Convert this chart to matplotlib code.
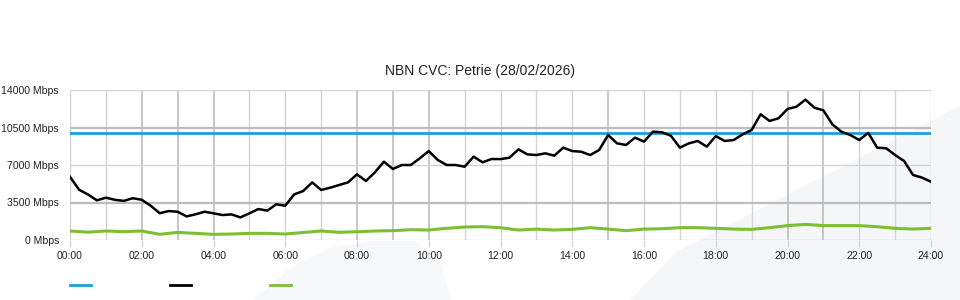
import numpy as np
import matplotlib
matplotlib.use("Agg")
import matplotlib.pyplot as plt
from matplotlib.lines import Line2D
from matplotlib.patches import Polygon

plt.rcParams["font.family"] = ["Liberation Sans", "DejaVu Sans"]

TITLE = "NBN CVC: Petrie (28/02/2026)"

# CVC capacity (blue)
capacity_mbps = 10000

# Peak traffic (black), 15 minute samples from 00:00 to 24:00
traffic_hours = np.arange(0, 24.01, 0.25)
traffic_mbps = [
    5900, 4700, 4250, 3700, 3950, 3750, 3650, 3900, 3750, 3200, 2500, 2700,
    2640, 2200, 2400, 2640, 2490, 2330, 2390, 2110, 2490, 2890, 2740, 3330,
    3200, 4260, 4570, 5380, 4670, 4880, 5130, 5380, 6130, 5510, 6320, 7310,
    6630, 7000, 7000, 7620, 8300, 7470, 7000, 7000, 6840, 7780, 7250, 7560,
    7550, 7680, 8460, 7990, 7930, 8090, 7870, 8620, 8300, 8240, 7930, 8400,
    9800, 9020, 8870, 9550, 9180, 10110, 10060, 9730, 8620, 9020, 9240, 8710,
    9700, 9240, 9330, 9860, 10270, 11730, 11110, 11360, 12230, 12440, 13100, 12350,
    12100, 10800, 10110, 9800, 9330, 10000, 8620, 8560, 7930, 7370, 6070, 5820,
    5440,
]

# Upload traffic (green), 30 minute samples
upload_hours = np.arange(0, 24.01, 0.5)
upload_mbps = [
    840, 730, 840, 780, 840, 530, 710, 620, 530, 560, 620, 620,
    560, 700, 840, 720, 770, 840, 870, 960, 930, 1090, 1210, 1240,
    1150, 930, 1020, 930, 990, 1150, 1020, 870, 1020, 1050, 1150, 1150,
    1090, 1020, 990, 1150, 1340, 1460, 1340, 1340, 1340, 1240, 1090, 1020,
    1090,
]

y_ticks = [0, 3500, 7000, 10500, 14000]
x_ticks = list(range(0, 25, 2))
x_labels = [f"{h:02d}:00" for h in x_ticks]

BLUE = "#1ba0dc"
BLACK = "#000000"
GREEN = "#7cbf34"
GRID_LIGHT = "#d4d4d4"
GRID_DARK = "#bdbdbd"

fig = plt.figure(figsize=(9.6, 3.0), dpi=100)

# faint watermark shapes behind the chart
W, H = 960, 300
def px(points):
    return [(x / W, 1 - y / H) for x, y in points]

swoosh = Polygon(px([(676, 252), (960, 106), (960, 300), (630, 300)]),
                 closed=True, facecolor="#f5f6f8", edgecolor="none",
                 transform=fig.transFigure, zorder=0)
hump = Polygon(px([(253, 300), (290, 268), (330, 248), (370, 241), (415, 241),
                   (440, 262), (451, 300)]),
               closed=True, facecolor="#f7f8f9", edgecolor="none",
               transform=fig.transFigure, zorder=0)
fig.add_artist(swoosh)
fig.add_artist(hump)

ax = fig.add_axes([70 / W, 60 / H, 861 / W, 150 / H])
ax.set_facecolor("none")

# grid drawn by hand so some lines can be darker
dark_hours = {2, 3, 4, 8, 9, 10, 15, 20, 21}
for h in range(0, 25):
    ax.axvline(h, color=GRID_DARK if h in dark_hours else GRID_LIGHT,
               linewidth=1.2 if h in dark_hours else 1.0, zorder=1)
for v in y_ticks:
    dark = v in (3500, 10500)
    ax.axhline(v, color=GRID_DARK if dark else GRID_LIGHT,
               linewidth=1.6 if dark else 1.0, zorder=1)

ax.plot(upload_hours, upload_mbps, color=GREEN, linewidth=2.2, zorder=3)
ax.axhline(capacity_mbps, color=BLUE, linewidth=2.0, zorder=4)
ax.plot(traffic_hours, traffic_mbps, color=BLACK, linewidth=1.8, zorder=5)

ax.set_xlim(0, 24)
ax.set_ylim(0, 14000)
ax.set_yticks(y_ticks)
ax.set_yticklabels([f"{v} Mbps" for v in y_ticks])
ax.set_xticks(x_ticks)
ax.set_xticklabels(x_labels)
ax.tick_params(axis="y", length=0, pad=8, labelsize=7.6, colors="#222222")
ax.tick_params(axis="x", length=5, width=1, color=GRID_LIGHT, pad=3,
               labelsize=7.6, labelcolor="#222222")
for s in ax.spines.values():
    s.set_visible(False)

fig.text(480 / W, 1 - 71 / H, TITLE, ha="center", va="center",
         fontsize=10, color="#222222")

# legend swatches (labels are blank in the original)
for x0, c in [(70, BLUE), (170, BLACK), (270, GREEN)]:
    fig.add_artist(Line2D([x0 / W, (x0 + 21) / W], [1 - 285 / H, 1 - 285 / H],
                          color=c, linewidth=2.0, transform=fig.transFigure))

fig.savefig("out.png", dpi=100)
